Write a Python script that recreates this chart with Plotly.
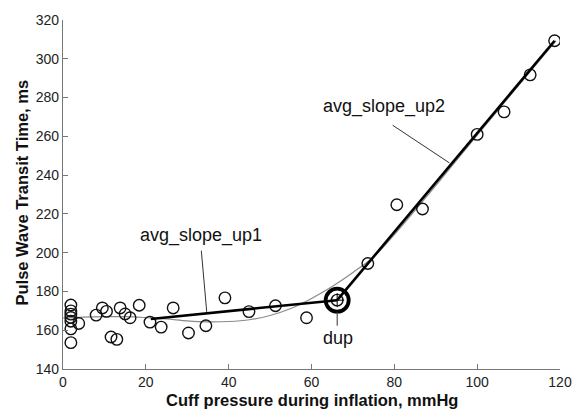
import plotly.graph_objects as go

# ---- data ----
pressure = [1.9, 1.9, 1.9, 1.9, 1.9, 1.9, 1.9, 3.8, 8.0, 9.5, 10.5, 11.6, 13.0, 13.8,
            15.0, 16.2, 18.4, 21.0, 23.7, 26.6, 30.3, 34.5, 39.1, 44.9, 51.3, 58.8,
            66.2, 73.6, 80.6, 86.8, 100.0, 106.5, 112.8, 118.7]
ptt = [173.0, 170.0, 168.3, 166.6, 164.6, 160.7, 153.6, 163.5, 167.8, 171.5, 169.7,
       156.5, 155.3, 171.5, 168.4, 166.4, 172.9, 164.2, 161.6, 171.5, 158.6, 162.3,
       176.7, 169.6, 172.6, 166.4, 175.5, 194.4, 224.7, 222.5, 261.0, 272.6, 291.7,
       309.3]

fit_x = [0, 5, 10, 15, 20, 25, 30, 35, 40, 45, 50, 55, 60, 65, 70, 75, 80, 85, 90,
         95, 100, 105, 110, 115, 119]
fit_y = [166.3, 166.8, 167.0, 167.0, 166.5, 165.8, 164.8, 164.3, 164.5, 165.4, 167.6,
         171.2, 176.4, 182.6, 189.8, 197.8, 209.3, 221.8, 234.6, 247.6, 260.6, 273.4,
         286.3, 299.0, 309.3]

seg1_x = [21.2, 66.2]
seg1_y = [165.8, 175.5]
seg2_x = [66.2, 118.7]
seg2_y = [175.5, 309.3]

dup_x = [66.2]
dup_y = [175.5]

x_ticks = [0, 20, 40, 60, 80, 100, 120]
y_ticks = [140, 160, 180, 200, 220, 240, 260, 280, 300, 320]

# annotation label positions (data coords)
lab1 = dict(text="avg_slope_up1", x=33.4, y=208.8, lx0=33.4, ly0=201.0, lx1=34.7, ly1=169.5)
lab2 = dict(text="avg_slope_up2", x=77.6, y=275.5, lx0=79.6, ly0=265.7, lx1=93.3, ly1=246.3)
lab3 = dict(text="dup", x=66.4, y=156.0, lx0=66.2, ly0=169.5, lx1=66.2, ly1=162.3)

FONT = "Liberation Sans, Arial, sans-serif"

fig = go.Figure()

fig.add_trace(go.Scatter(x=fit_x, y=fit_y, mode="lines", line_shape="spline",
                         line=dict(color="#8a8a8a", width=1.2), hoverinfo="skip"))
fig.add_trace(go.Scatter(x=pressure, y=ptt, mode="markers",
                         marker=dict(symbol="circle-open", size=11.5, color="#111111",
                                     line=dict(width=1.4, color="#111111"))))
fig.add_trace(go.Scatter(x=seg1_x, y=seg1_y, mode="lines",
                         line=dict(color="#000000", width=2.6)))
fig.add_trace(go.Scatter(x=seg2_x, y=seg2_y, mode="lines",
                         line=dict(color="#000000", width=2.6)))
fig.add_trace(go.Scatter(x=dup_x, y=dup_y, mode="markers",
                         marker=dict(symbol="circle-open", size=23, color="#000000",
                                     line=dict(width=3.8, color="#000000"))))
fig.add_trace(go.Scatter(x=dup_x, y=dup_y, mode="markers",
                         marker=dict(symbol="cross-thin-open", size=10, color="#000000",
                                     line=dict(width=1, color="#000000"))))

for lab in (lab1, lab2, lab3):
    fig.add_shape(type="line", xref="x", yref="y", x0=lab["lx0"], y0=lab["ly0"],
                  x1=lab["lx1"], y1=lab["ly1"], line=dict(color="#333333", width=1))
    fig.add_annotation(x=lab["x"], y=lab["y"], xref="x", yref="y", text=lab["text"],
                       showarrow=False, font=dict(family=FONT, size=18, color="#111111"))

fig.add_annotation(x=0.5, y=0, xref="paper", yref="paper", xanchor="center",
                   yanchor="middle", yshift=-31,
                   text="<b>Cuff pressure during inflation, mmHg</b>", showarrow=False,
                   font=dict(family=FONT, size=16.5, color="#111111"))
fig.add_annotation(x=0, y=0.5, xref="paper", yref="paper", xanchor="center",
                   yanchor="middle", xshift=-42, yshift=2,
                   text="<b>Pulse Wave Transit Time, ms</b>", showarrow=False, textangle=-90,
                   font=dict(family=FONT, size=16.5, color="#111111"))

fig.update_layout(
    width=584, height=412,
    margin=dict(l=63, r=19, t=15, b=43),
    paper_bgcolor="white", plot_bgcolor="white",
    showlegend=False,
    font=dict(family=FONT, size=14, color="#222222"),
)
fig.update_xaxes(range=[0, 120], tickvals=x_ticks, ticks="inside", ticklen=5,
                 tickcolor="#777777", showline=True, linecolor="#777777", linewidth=1.2,
                 showgrid=False, zeroline=False, tickfont=dict(size=14))
fig.update_yaxes(range=[140, 320], tickvals=y_ticks, ticks="inside", ticklen=5,
                 tickcolor="#777777", showline=True, linecolor="#777777", linewidth=1.2,
                 showgrid=False, zeroline=False, tickfont=dict(size=14))

fig.write_html("out.html")
